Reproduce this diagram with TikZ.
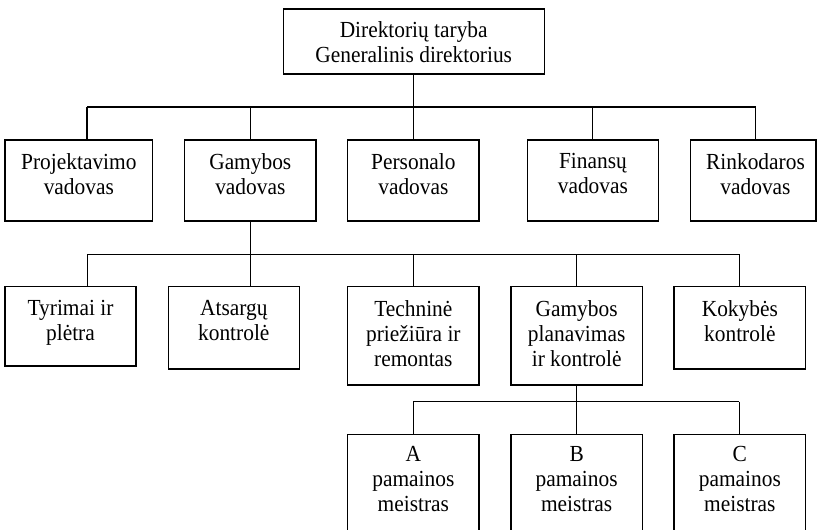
\documentclass[tikz,border=0pt]{standalone}
\usepackage{fontspec}
\setmainfont[FakeStretch=0.93]{Liberation Serif}
\begin{document}
\begin{tikzpicture}[x=1pt,y=-1pt,
  box/.style={draw, line width=1.4pt, inner sep=0pt, outer sep=0pt, rectangle},
  lbl/.style={align=center, inner sep=0pt, anchor=north,
              font=\fontsize{23}{25}\selectfont},
  conn/.style={line width=1.4pt}]
  % page area
  \clip (0,0) rectangle (817,530);
  \fill[white] (0,0) rectangle (817,530);

  % top of the hierarchy
  \node[box, minimum width=261pt, minimum height=65pt] (top) at (413.7,41.5) {};
  \node[lbl] (topt) at ([yshift=-12.6pt]top.north) {Direktorių taryba\\Generalinis direktorius};

  % department heads
  \node[box, minimum width=147.7pt, minimum height=81pt] (proj) at (78.85,180.5) {};
  \node[box, minimum width=131.7pt, minimum height=81pt] (gam)  at (250.3,180.5) {};
  \node[box, minimum width=131.3pt, minimum height=81pt] (pers) at (413.4,180.5) {};
  \node[box, minimum width=131.2pt, minimum height=81pt] (fin)  at (592.9,180.5) {};
  \node[box, minimum width=125.7pt, minimum height=81pt] (rink) at (753.2,180.5) {};
  \node[lbl] (projt) at ([yshift=-12.9pt]proj.north) {Projektavimo\\vadovas};
  \node[lbl] (gamt)  at ([yshift=-12.9pt]gam.north)  {Gamybos\\vadovas};
  \node[lbl] (perst) at ([yshift=-12.9pt]pers.north) {Personalo\\vadovas};
  \node[lbl] (fint)  at ([yshift=-12.9pt]fin.north)  {Finansų\\vadovas};
  \node[lbl] (rinkt) at ([xshift=2.3pt,yshift=-12.9pt]rink.north) {Rinkodaros\\vadovas};

  % production units
  \node[box, minimum width=131pt,   minimum height=79.3pt] (tyr)  at (70.5,326.35) {};
  \node[box, minimum width=131pt,   minimum height=82.3pt] (ats)  at (233.8,327.85) {};
  \node[box, minimum width=131.3pt, minimum height=98.3pt] (tech) at (413.35,335.85) {};
  \node[box, minimum width=131.3pt, minimum height=98.3pt] (gpk)  at (576.65,335.85) {};
  \node[box, minimum width=131.7pt, minimum height=82.3pt] (kok)  at (739.85,327.85) {};
  \node[lbl] (tyrt)  at ([yshift=-13.2pt]tyr.north)  {Tyrimai ir\\plėtra};
  \node[lbl] (atst)  at ([yshift=-13.2pt]ats.north)  {Atsargų\\kontrolė};
  \node[lbl] (techt) at ([yshift=-13.2pt]tech.north) {Techninė\\priežiūra ir\\remontas};
  \node[lbl] (gpkt)  at ([yshift=-13.2pt]gpk.north)  {Gamybos\\planavimas\\ir kontrolė};
  \node[lbl] (kokt)  at ([yshift=-13.2pt]kok.north)  {Kokybės\\kontrolė};

  % shift foremen
  \node[box, minimum width=131.3pt, minimum height=100pt] (sa) at (413.35,484.3) {};
  \node[box, minimum width=131.3pt, minimum height=100pt] (sb) at (576.65,484.3) {};
  \node[box, minimum width=131.7pt, minimum height=100pt] (sc) at (739.85,484.3) {};
  \node[lbl] (sat) at ([yshift=-11.5pt]sa.north) {A\\pamainos\\meistras};
  \node[lbl] (sbt) at ([yshift=-11.5pt]sb.north) {B\\pamainos\\meistras};
  \node[lbl] (sct) at ([yshift=-11.5pt]sc.north) {C\\pamainos\\meistras};

  % first bus
  \coordinate (j1p) at (87,107);
  \coordinate (j1g) at (250.3,107);
  \coordinate (j1s) at (413.7,107);
  \coordinate (j1f) at (592.5,107);
  \coordinate (j1r) at (755.5,107);
  \draw[conn] (top.south) -- (j1s);
  \draw[conn] (j1p) -- (j1r);
  \foreach \j/\n in {j1p/proj, j1g/gam, j1s/pers, j1f/fin, j1r/rink}
    \draw[conn] (\j) -- (\j |- \n.north);

  % second bus
  \coordinate (j2t) at (87.3,254.3);
  \coordinate (j2a) at (250.3,254.3);
  \coordinate (j2e) at (413.35,254.3);
  \coordinate (j2g) at (576.65,254.3);
  \coordinate (j2k) at (739.3,254.3);
  \draw[conn] (gam.south) -- (j2a);
  \draw[conn] (j2t) -- (j2k);
  \foreach \j/\n in {j2t/tyr, j2a/ats, j2e/tech, j2g/gpk, j2k/kok}
    \draw[conn] (\j) -- (\j |- \n.north);

  % third bus
  \coordinate (j3a) at (413.35,401.7);
  \coordinate (j3b) at (576.65,401.7);
  \coordinate (j3c) at (739.3,401.7);
  \draw[conn] (gpk.south) -- (j3b);
  \draw[conn] (j3a) -- (j3c);
  \foreach \j/\n in {j3a/sa, j3b/sb, j3c/sc}
    \draw[conn] (\j) -- (\j |- \n.north);
\end{tikzpicture}
\end{document}
